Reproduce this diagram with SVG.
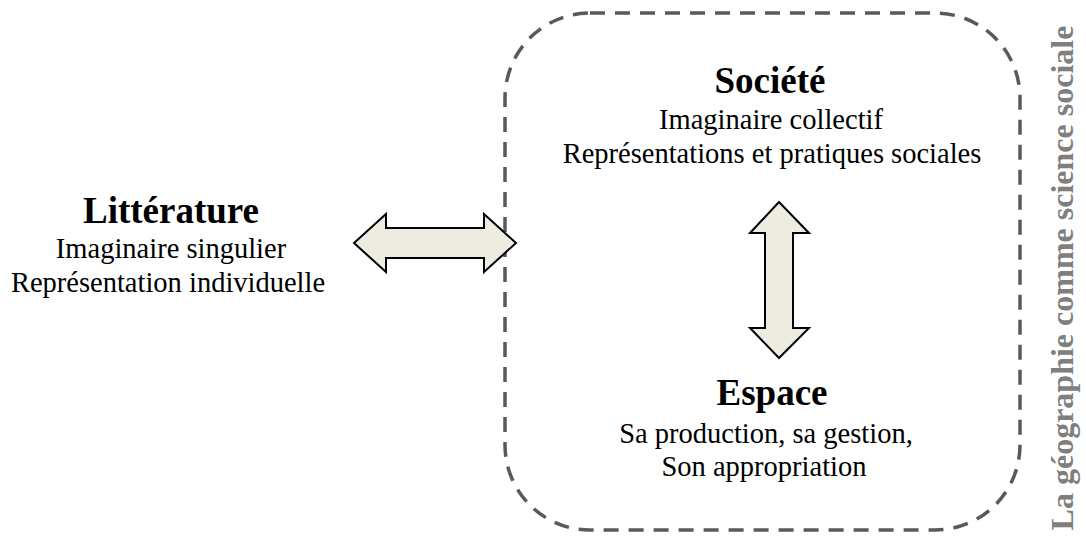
<svg xmlns="http://www.w3.org/2000/svg" width="1086" height="542" viewBox="0 0 1086 542">
<style>
text{font-family:"Liberation Serif","Times New Roman",serif;fill:#000;text-anchor:middle}
.t{font-weight:bold;font-size:37px}
.s{font-size:28.5px}
.arr{fill:#EEECE1;stroke:#000;stroke-width:2;stroke-linejoin:miter}
.frame{fill:none;stroke:#595959;stroke-width:3.5;stroke-dasharray:15 10}
.side{font-weight:bold;font-size:32px;fill:#7f7f7f}
</style>
<rect width="1086" height="542" fill="#fff"/>
<g id="frame"><rect class="frame" x="505" y="13" width="515" height="517" rx="85" ry="85"/></g>
<g id="litterature">
<text class="t" x="171" y="223">Littérature</text>
<text class="s" x="171" y="258">Imaginaire singulier</text>
<text class="s" x="168" y="292">Représentation individuelle</text>
</g>
<g id="societe">
<text class="t" x="770" y="93">Société</text>
<text class="s" x="771" y="129">Imaginaire collectif</text>
<text class="s" x="772" y="163">Représentations et pratiques sociales</text>
</g>
<g id="espace">
<text class="t" x="772" y="405">Espace</text>
<text class="s" x="766" y="443">Sa production, sa gestion,</text>
<text class="s" x="764" y="476">Son appropriation</text>
</g>
<g id="label"><text class="side" transform="translate(1073,278) rotate(-90)">La géographie comme science sociale</text></g>
<g id="connectors">
<path class="arr" d="M354,243 L386,214 L386,228 L484,228 L484,214 L516,243 L484,272 L484,258 L386,258 L386,272 Z"/>
<path class="arr" d="M779,202 L809,233 L793,233 L793,328 L809,328 L779,358 L750,328 L765,328 L765,233 L750,233 Z"/>
</g>
</svg>
